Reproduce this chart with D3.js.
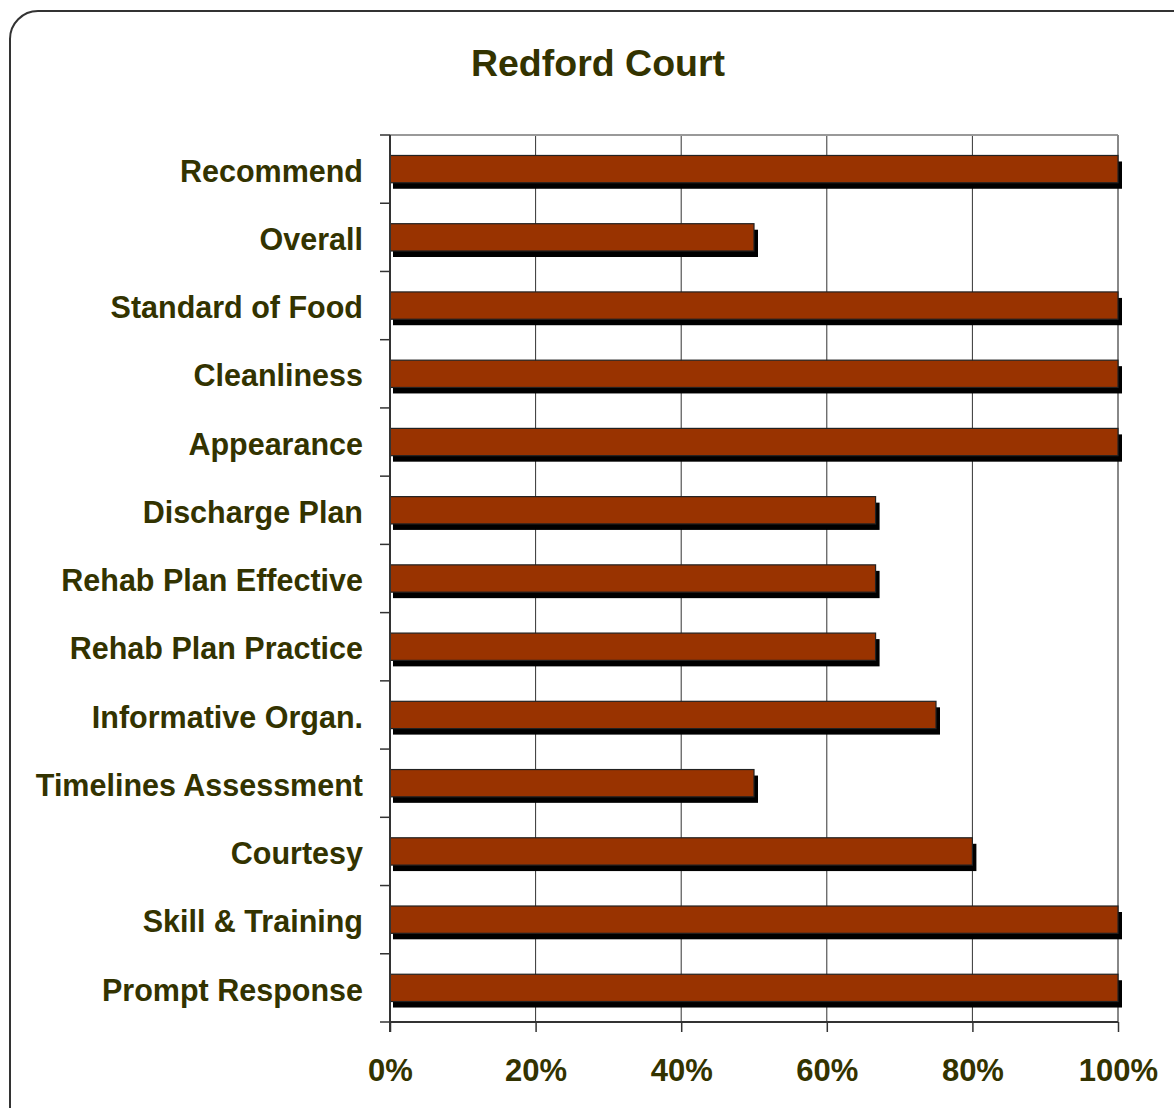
<!DOCTYPE html>
<html><head><meta charset="utf-8">
<script src="https://cdn.jsdelivr.net/npm/d3@7"></script>
<style>body{margin:0;background:#fff;}svg{display:block;}</style>
</head><body>
<script>
const categories = ["Recommend","Overall","Standard of Food","Cleanliness","Appearance","Discharge Plan","Rehab Plan Effective","Rehab Plan Practice","Informative Organ.","Timelines Assessment","Courtesy","Skill & Training","Prompt Response"];
const values = [1.00,0.50,1.00,1.00,1.00,0.667,0.667,0.667,0.75,0.50,0.80,1.00,1.00];
const ticks = [0,0.2,0.4,0.6,0.8,1.0];
const title = "Redford Court";

const W=1174,H=1108;
const svg=d3.select("body").append("svg").attr("width",W).attr("height",H);
const txt="#333300", font="'Liberation Sans', Arial, sans-serif";

svg.append("rect").attr("x",10).attr("y",11).attr("width",1200).attr("height",1140)
  .attr("rx",28).attr("fill","#fff").attr("stroke","#333").attr("stroke-width",2);

svg.append("text").attr("x",598).attr("y",76).attr("text-anchor","middle")
  .attr("font-family",font).attr("font-weight","bold").attr("font-size",37.5).attr("fill",txt).text(title);

const L=390,R=1118,T=135,B=1022;
const x=d3.scaleLinear().domain([0,1]).range([L,R]);
const y=d3.scaleBand().domain(categories).range([T,B]).paddingInner(0.6).paddingOuter(0.3);
const yb=d3.scaleBand().domain(categories).range([T,B]);

// gridlines
svg.append("g").selectAll("line").data(ticks.slice(1,-1)).join("line")
  .attr("x1",d=>x(d)).attr("x2",d=>x(d)).attr("y1",T).attr("y2",B).attr("stroke","#333").attr("stroke-width",1);
// top and right borders
svg.append("line").attr("x1",L).attr("x2",R).attr("y1",T).attr("y2",T).attr("stroke","#999").attr("stroke-width",2);
svg.append("line").attr("x1",R).attr("x2",R).attr("y1",T).attr("y2",B).attr("stroke","#888").attr("stroke-width",2);

// shadows
svg.append("g").selectAll("rect").data(categories).join("rect")
  .attr("x",x(0)+3).attr("y",d=>y(d)+6).attr("width",(d,i)=>x(values[i])-x(0)+1).attr("height",y.bandwidth())
  .attr("fill","#000");
// bars
svg.append("g").selectAll("rect").data(categories).join("rect")
  .attr("x",x(0)).attr("y",d=>y(d)).attr("width",(d,i)=>x(values[i])-x(0)).attr("height",y.bandwidth())
  .attr("fill","#993300").attr("stroke","#222").attr("stroke-width",1.2);

// axes
const xa=d3.axisBottom(x).tickValues(ticks).tickFormat(d3.format(".0%")).tickSize(10).tickPadding(27);
const gx=svg.append("g").attr("transform",`translate(0,${B})`).call(xa);
gx.select(".domain").attr("stroke","#333").attr("stroke-width",2).attr("d",`M${L},0H${R}`);
gx.selectAll(".tick line").attr("stroke","#333").attr("stroke-width",1.5);
gx.selectAll("text").attr("font-family",font).attr("font-weight","bold").attr("font-size",31).attr("fill",txt);

// left axis
svg.append("line").attr("x1",L).attr("x2",L).attr("y1",T).attr("y2",B+10).attr("stroke","#333").attr("stroke-width",2);
const bounds=categories.map(c=>yb(c)).concat([B]);
svg.append("g").selectAll("line").data(bounds).join("line")
  .attr("x1",L-10).attr("x2",L).attr("y1",d=>d).attr("y2",d=>d).attr("stroke","#333").attr("stroke-width",1.5);
svg.append("g").selectAll("text").data(categories).join("text")
  .attr("x",L-27).attr("y",d=>yb(d)+yb.bandwidth()/2+2).attr("dy","0.35em").attr("text-anchor","end")
  .attr("font-family",font).attr("font-weight","bold").attr("font-size",30.5).attr("fill",txt).text(d=>d);
</script>
</body></html>
